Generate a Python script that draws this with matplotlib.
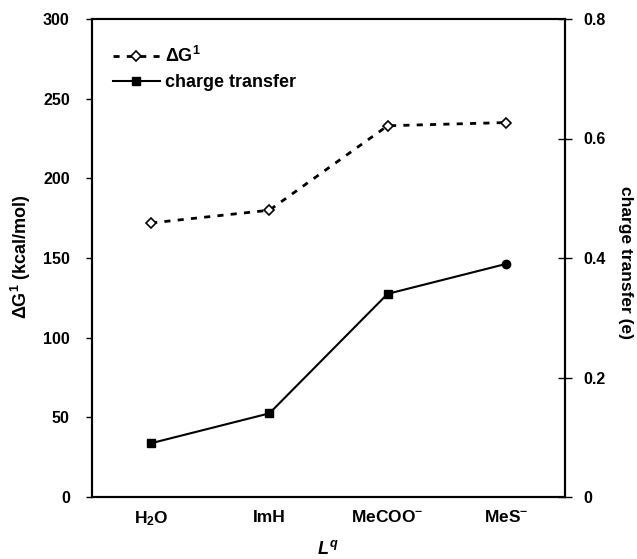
import matplotlib
matplotlib.use('Agg')
import matplotlib.pyplot as plt
import numpy as np

plt.rcParams['font.family'] = ['Liberation Sans', 'DejaVu Sans']
plt.rcParams['font.weight'] = 'bold'
plt.rcParams['mathtext.fontset'] = 'custom'
plt.rcParams['mathtext.rm'] = 'Liberation Sans:bold'
plt.rcParams['mathtext.bf'] = 'Liberation Sans:bold'
plt.rcParams['mathtext.it'] = 'Liberation Sans:bold:italic'

# data
ligands = ['H$_2$O', 'ImH', 'MeCOO$^{-}$', 'MeS$^{-}$']
delta_g = [172, 180, 233, 235]          # kcal/mol, left axis
charge = [0.09, 0.14, 0.34, 0.39]       # e, right axis
left_ticks = [0, 50, 100, 150, 200, 250, 300]
right_ticks = [0, 0.2, 0.4, 0.6, 0.8]
right_labels = ['0', '0.2', '0.4', '0.6', '0.8']

x = np.arange(len(ligands))

W, H = 637, 559
fig = plt.figure(figsize=(W / 100, H / 100), dpi=100)
ax1 = fig.add_axes([92 / W, 1 - 497 / H, (565 - 92) / W, (497 - 19) / H])
ax2 = ax1.twinx()

l1, = ax1.plot(x, delta_g, color='black', lw=2, linestyle=(0, (2.2, 2.6)),
               marker='D', ms=5.5, mfc='white', mec='black', mew=1.2,
               label=r'ΔG$^1$')
l2, = ax2.plot(x, charge, color='black', lw=1.5, marker='s', ms=5.5,
               markevery=[0, 1, 2], label='charge transfer')
ax2.plot(x[-1:], charge[-1:], 'o', color='black', ms=6)

ax1.set_xlim(-0.5, len(ligands) - 0.5)
ax1.set_ylim(0, 300)
ax2.set_ylim(0, 0.8)
ax1.set_yticks(left_ticks)
ax2.set_yticks(right_ticks)
ax2.set_yticklabels(right_labels)
ax1.set_xticks(x)
ax1.set_xticklabels(ligands)

ax1.tick_params(axis='x', length=0, pad=9, labelsize=12.5)
ax1.tick_params(axis='y', direction='out', length=4, width=1, labelsize=11.5, pad=12)
ax2.tick_params(axis='y', direction='inout', length=10, width=1, labelsize=11.5, pad=8)
for a in (ax1, ax2):
    for s in a.spines.values():
        s.set_linewidth(1.5)

# axis titles placed in figure pixels
fig.text(21 / W, 1 - 257 / H, r'ΔG$^1$ (kcal/mol)', fontsize=13, fontweight='bold',
         rotation=90, ha='center', va='center')
fig.text(625 / W, 1 - 262 / H, 'charge transfer (e)', fontsize=12.5, fontweight='bold',
         rotation=270, ha='center', va='center')
fig.text(328 / W, 1 - 549 / H, '$L^q$', fontsize=13, ha='center', va='center')

ax2.legend(handles=[l1, l2], loc='upper left', bbox_to_anchor=(0.044, 0.944),
           borderaxespad=0, borderpad=0, frameon=False, fontsize=13,
           handlelength=2.6, handletextpad=0.3, labelspacing=0.45)

plt.savefig('out.png', dpi=100)
